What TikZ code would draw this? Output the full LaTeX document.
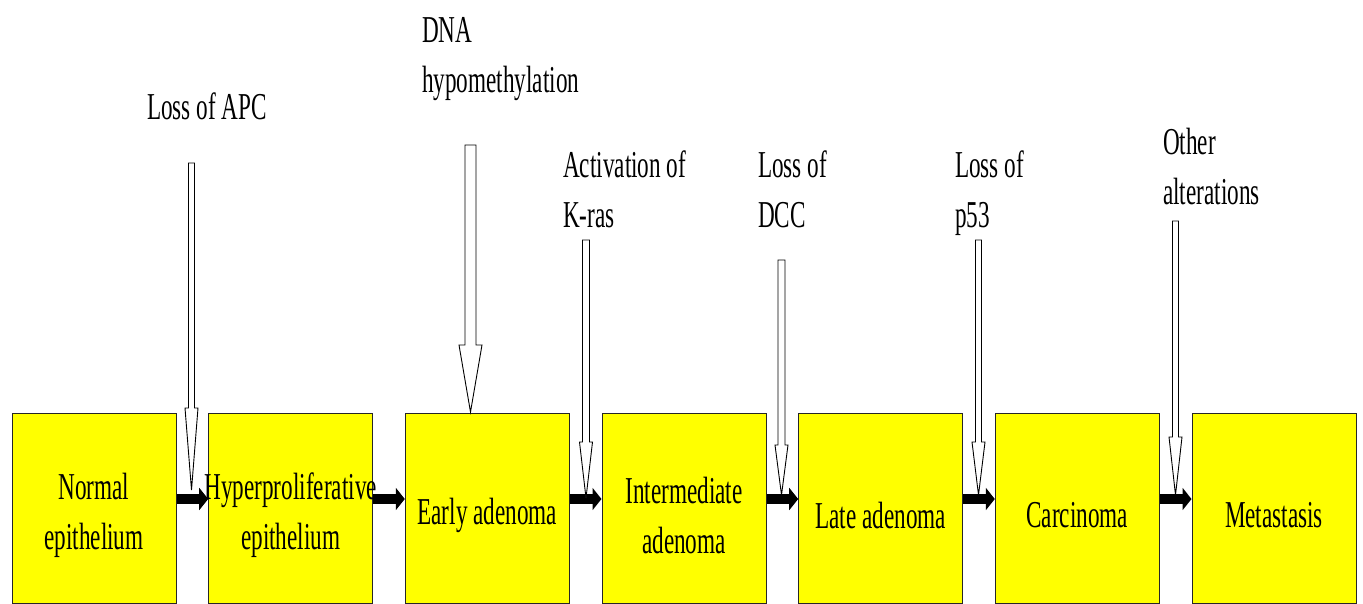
\documentclass[tikz,border=0pt]{standalone}
\usepackage{fontspec}
\setmainfont{Liberation Serif}[FakeStretch=0.61]
\usetikzlibrary{arrows.meta}
\definecolor{boxyellow}{RGB}{255,255,0}
\tikzset{
  stagebox/.style={draw=black!85, line width=1pt, fill=boxyellow, minimum width=164pt, minimum height=190pt, inner sep=0pt},
  txt/.style={font=\fontsize{38}{50}\selectfont, inner sep=0pt},
  boxtxt/.style={txt, align=center},
  lbl/.style={txt, align=left, anchor=base west},
  flow/.style={line width=10pt, -{Triangle[length=9pt,width=22pt]}},
  hollow/.style={draw=black, line width=0.9pt, fill=white, line join=miter}
}
\newcommand\hollowarrow[6]{%
  \draw[hollow] (#1-#3,#2) -- (#1+#3,#2) -- (#1+#3,#4) -- (#1+#5,#4) -- (#1,#6) -- (#1-#5,#4) -- (#1-#3,#4) -- cycle;}
\begin{document}
\begin{tikzpicture}[x=1pt,y=-1pt]
\useasboundingbox (0,0) rectangle (1363,604);
% stage boxes
\node[stagebox] (b1) at (94,508) {};
\node[stagebox] (b2) at (290.7,508) {};
\node[stagebox] (b3) at (487.3,508) {};
\node[stagebox] (b4) at (684,508) {};
\node[stagebox] (b5) at (880.7,508) {};
\node[stagebox] (b6) at (1077.3,508) {};
\node[stagebox] (b7) at (1274,508) {};
% box texts
\node[boxtxt] (t1) at ([yshift=-7pt]b1.center) {Normal\\epithelium};
\node[boxtxt] (t2) at ([yshift=-7pt]b2.center) {Hyperproliferative\\epithelium};
\node[boxtxt] (t3) at ([yshift=-7pt]b3.center) {Early adenoma};
\node[boxtxt] (t4) at ([yshift=-7pt]b4.center) {Intermediate\\adenoma};
\node[boxtxt] (t5) at ([yshift=-7pt]b5.center) {Late adenoma};
\node[boxtxt] (t6) at ([yshift=-7pt]b6.center) {Carcinoma};
\node[boxtxt] (t7) at ([yshift=-7pt]b7.center) {Metastasis};
% flow arrows
\foreach \a/\b in {b1/b2,b2/b3,b3/b4,b4/b5,b5/b6,b6/b7}
  \draw[flow] ([yshift=9pt]\a.east) -- ([yshift=9pt]\b.west);
% labels (base anchor = baseline of the last line)
\node[lbl] (l1) at (147,120) {Loss of APC};
\node[lbl] (l2) at (422,93) {DNA\\hypomethylation};
\node[lbl] (l3) at (563,228) {Activation of\\K-ras};
\node[lbl] (l4) at (758,228) {Loss of\\DCC};
\node[lbl] (l5) at (955,228) {Loss of\\p53};
\node[lbl] (l6) at (1163,205) {Other\\alterations};
% hollow arrows
\hollowarrow{191.5}{163}{3}{408}{6.5}{490}
\hollowarrow{470.5}{145}{5.5}{345}{11.5}{412}
\hollowarrow{586}{240}{3.5}{442}{6.5}{498}
\hollowarrow{781.5}{260}{3.5}{445}{6.5}{495}
\hollowarrow{978.5}{240}{3}{442}{6.5}{495}
\hollowarrow{1175.5}{221}{3}{437}{6.5}{495}
\end{tikzpicture}
\end{document}
